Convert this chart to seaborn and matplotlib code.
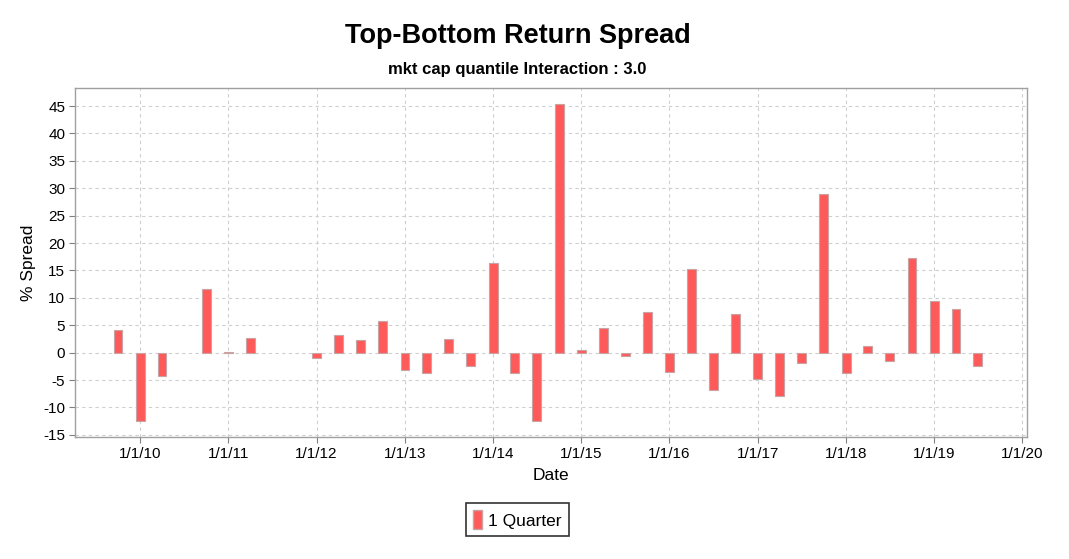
import pandas as pd
import seaborn as sns
import matplotlib.pyplot as plt
import matplotlib.dates as mdates
from matplotlib.patches import Patch

# quarter start dates and top-bottom spread (%)
quarters = ["2009-10-01", "2010-01-01", "2010-04-01", "2010-10-01", "2011-01-01",
            "2011-04-01", "2012-01-01", "2012-04-01", "2012-07-01", "2012-10-01",
            "2013-01-01", "2013-04-01", "2013-07-01", "2013-10-01", "2014-01-01",
            "2014-04-01", "2014-07-01", "2014-10-01", "2015-01-01", "2015-04-01",
            "2015-07-01", "2015-10-01", "2016-01-01", "2016-04-01", "2016-07-01",
            "2016-10-01", "2017-01-01", "2017-04-01", "2017-07-01", "2017-10-01",
            "2018-01-01", "2018-04-01", "2018-07-01", "2018-10-01", "2019-01-01",
            "2019-04-01", "2019-07-01"]
spread = [4.2, -12.5, -4.3, 11.6, 0.1,
          2.7, -1.0, 3.3, 2.3, 5.7,
          -3.2, -3.7, 2.5, -2.4, 16.3,
          -3.8, -12.5, 45.4, 0.4, 4.5,
          -0.6, 7.4, -3.5, 15.2, -6.8,
          7.0, -4.9, -8.0, -1.9, 29.0,
          -3.7, 1.2, -1.5, 17.3, 9.4,
          7.9, -2.5]
series_name = "1 Quarter"
bar_color = "#ff5a5a"

df = pd.DataFrame({"date": pd.to_datetime(quarters), "spread": spread})
df["x"] = mdates.date2num(df["date"])

sns.set_theme(style="white")
plt.rcParams["font.family"] = ["Liberation Sans", "DejaVu Sans"]
plt.rcParams["axes.unicode_minus"] = False
plt.rcParams["text.color"] = "black"
plt.rcParams["axes.labelcolor"] = "black"

fig = plt.figure(figsize=(10.69, 5.59), dpi=100)
ax = fig.add_axes([0.0702, 0.2182, 0.8905, 0.6244])

sns.barplot(data=df, x="x", y="spread", native_scale=True, width=0.41,
            color=bar_color, saturation=1, edgecolor="#c9a3a3", linewidth=0.8,
            errorbar=None, ax=ax)

ax.set_xlim(mdates.date2num(pd.Timestamp("2009-04-06")),
            mdates.date2num(pd.Timestamp("2020-01-20")))
ax.set_ylim(-15.4, 48.3)
ax.set_yticks(range(-15, 50, 5))
ax.xaxis.set_major_locator(mdates.YearLocator())
ax.xaxis.set_major_formatter(
    plt.FuncFormatter(lambda v, p: (lambda d: f"{d.month}/{d.day}/{d:%y}")(mdates.num2date(v))))

ax.grid(True, color="#cfcfcf", linestyle=(0, (3, 3)), linewidth=0.8)
ax.set_axisbelow(True)
for s in ax.spines.values():
    s.set_color("#a0a0a0")
    s.set_linewidth(1.0)
ax.tick_params(axis="both", direction="out", length=4, width=0.8, color="#808080",
               labelsize=11, labelcolor="black", bottom=True, left=True, pad=3)

ax.set_xlabel("Date", fontsize=12.5, labelpad=5)
ax.set_ylabel("% Spread", fontsize=12.5, labelpad=5)

fig.text(0.484, 0.935, "Top-Bottom Return Spread", ha="center", va="center",
         fontsize=19.5, fontweight="bold")
fig.text(0.484, 0.875, "mkt cap quantile Interaction : 3.0", ha="center", va="center",
         fontsize=12, fontweight="bold")

handle = Patch(facecolor=bar_color, edgecolor="#c9a3a3")
leg = fig.legend([handle], [series_name], loc="center", bbox_to_anchor=(0.484, 0.07),
                 fontsize=12.5, frameon=True, fancybox=False, handlelength=0.5,
                 handleheight=1.3, handletextpad=0.4, borderpad=0.4)
leg.get_frame().set_edgecolor("black")
leg.get_frame().set_linewidth(1.2)

fig.savefig("out.png", dpi=100)
